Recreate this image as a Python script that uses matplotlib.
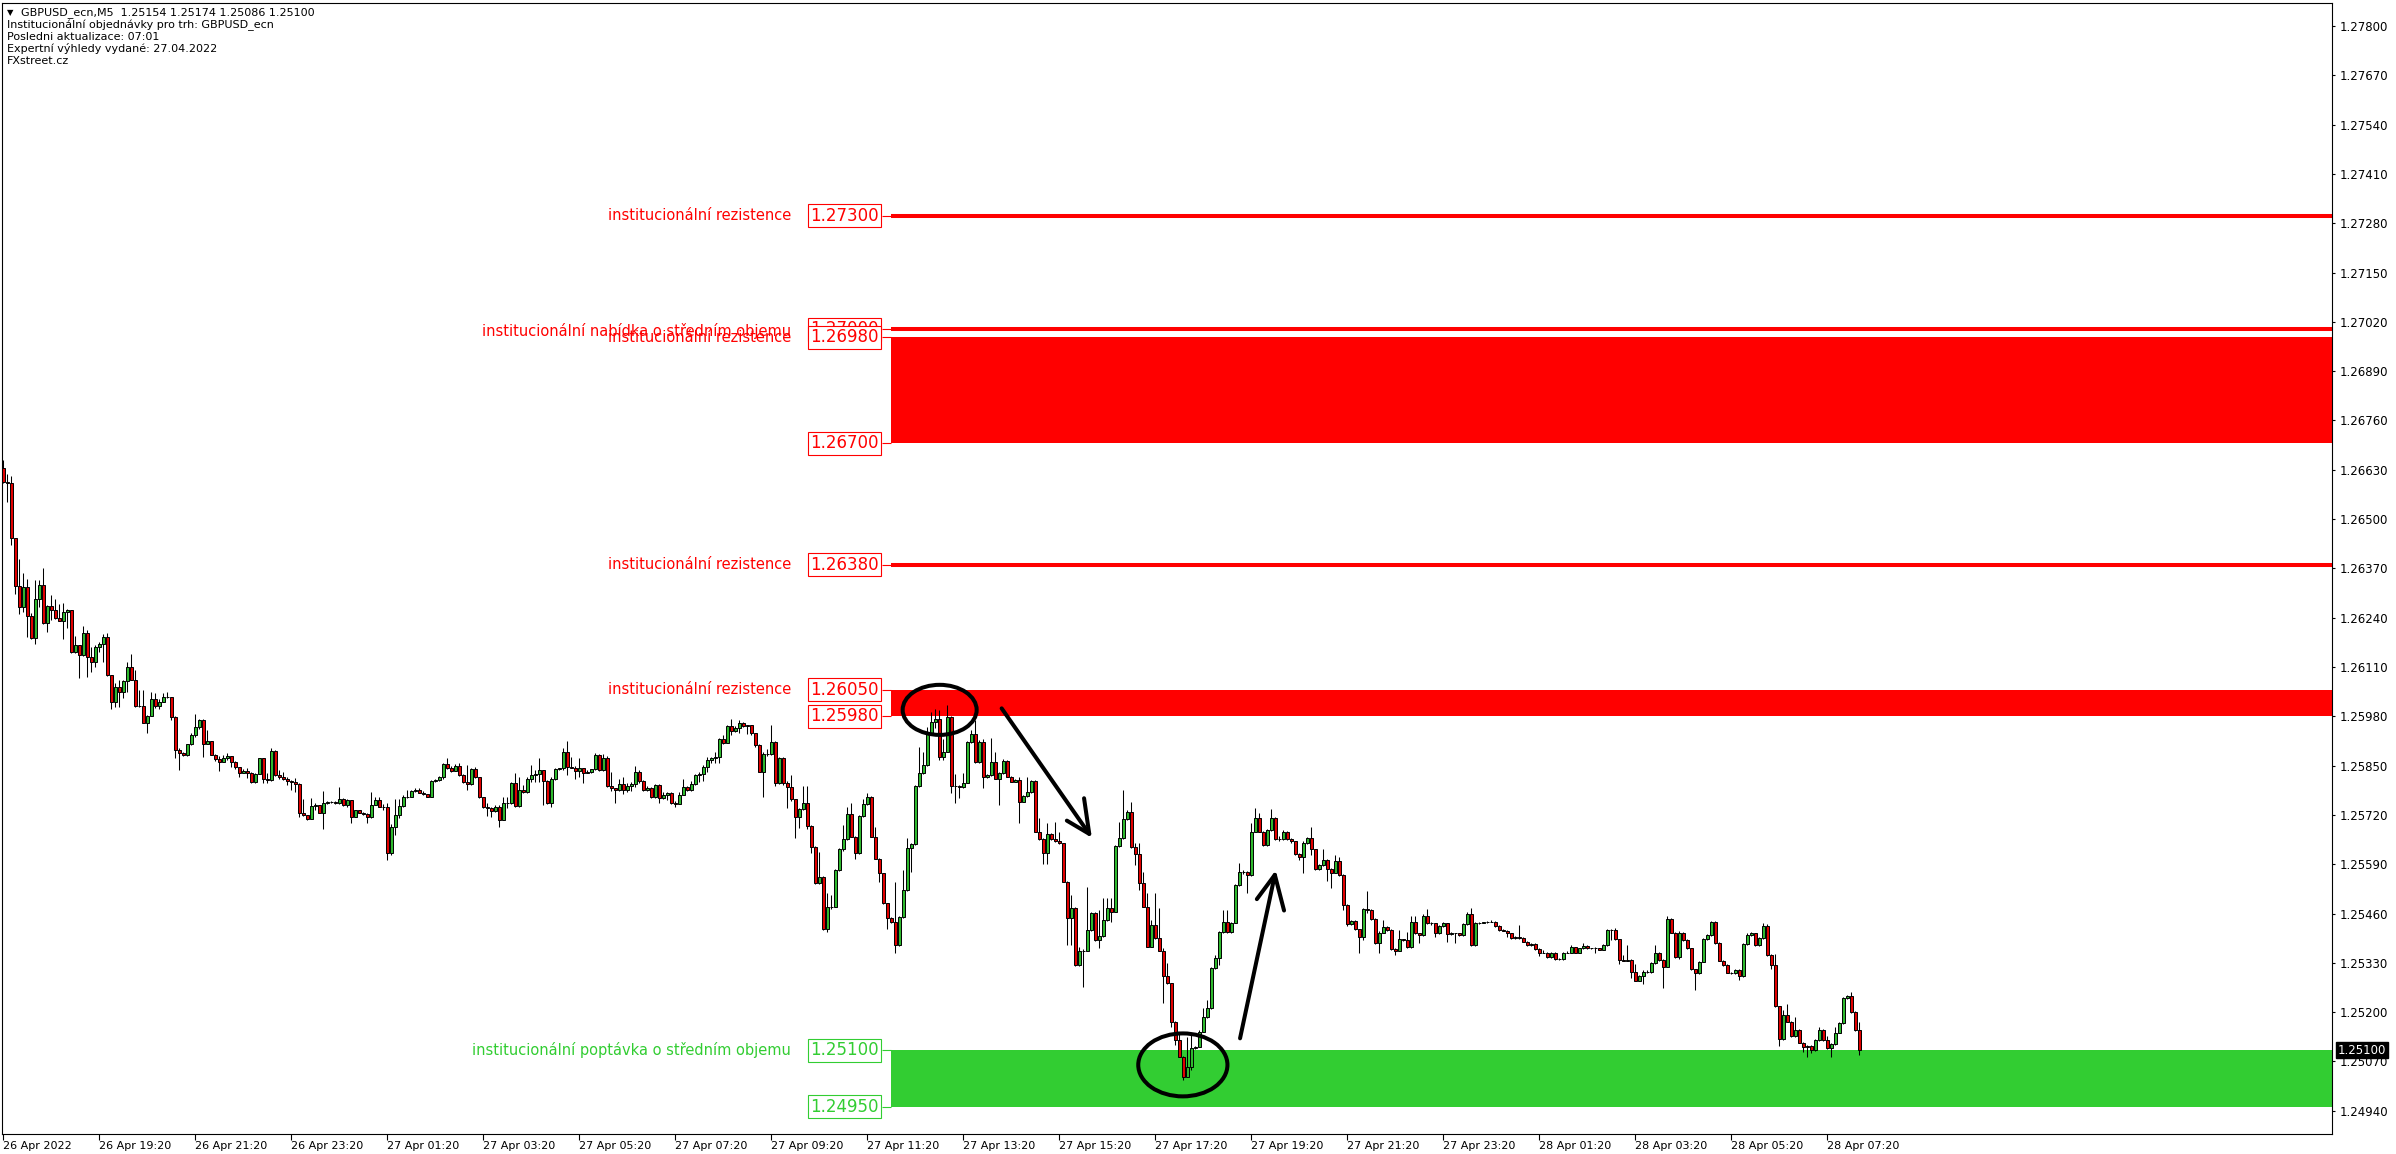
import numpy as np
import matplotlib.pyplot as plt
import matplotlib.transforms as mtransforms
from matplotlib.patches import Rectangle, Ellipse

# GBPUSD M5 candles, prices stored as pips above 1.25000
BASE = 1.25000
first_open_pips = 163.4
close_pips = [
    159.9, 159.6, 144.9, 132.4, 126.9, 132.2, 124.5, 118.6, 128.8, 132.5,
    122.7, 127.1, 126.0, 123.8, 123.2, 125.5, 126.0, 115.0, 116.7, 114.2,
    119.9, 113.7, 112.4, 116.4, 117.1, 118.8, 108.9, 101.9, 105.8, 104.5,
    107.4, 110.9, 107.7, 100.8, 100.7, 96.3, 98.1, 102.5, 100.7, 101.8,
    103.0, 103.1, 97.9, 89.1, 88.4, 87.7, 90.7, 93.0, 95.3, 97.0,
    90.7, 91.4, 87.9, 86.7, 86.0, 87.0, 87.5, 86.0, 84.6, 83.1,
    83.6, 83.1, 80.8, 82.9, 86.9, 81.6, 81.1, 88.9, 82.5, 81.9,
    81.6, 81.0, 80.7, 80.2, 72.4, 72.0, 71.0, 74.3, 74.6, 72.6,
    75.1, 75.4, 75.5, 75.1, 76.1, 74.6, 75.9, 71.5, 73.3, 72.6,
    72.2, 71.4, 74.6, 76.0, 74.2, 74.0, 62.0, 68.8, 72.0, 74.3,
    76.6, 76.8, 78.2, 78.6, 77.9, 77.5, 76.8, 81.0, 81.2, 81.9,
    85.4, 84.3, 83.7, 84.9, 82.5, 80.8, 80.2, 84.0, 82.0, 76.6,
    74.0, 73.7, 73.1, 74.2, 70.7, 75.1, 75.2, 80.5, 74.3, 78.7,
    78.1, 81.6, 82.5, 82.8, 83.8, 81.0, 75.2, 81.6, 84.1, 84.3,
    88.7, 84.7, 84.5, 83.6, 84.3, 83.1, 83.4, 84.0, 87.8, 83.8,
    87.1, 79.6, 79.0, 78.6, 80.2, 78.7, 79.6, 80.2, 83.2, 81.0,
    78.7, 79.0, 76.6, 79.9, 76.4, 77.3, 77.9, 75.2, 75.0, 77.3,
    79.4, 78.6, 80.2, 82.5, 82.8, 84.7, 86.6, 86.9, 87.2, 91.9,
    90.9, 95.4, 94.2, 95.0, 96.3, 95.4, 95.6, 93.5, 90.4, 83.4,
    88.1, 88.1, 91.3, 80.3, 86.9, 80.5, 79.4, 76.1, 71.4, 73.5,
    75.2, 69.1, 63.6, 54.1, 55.7, 41.8, 47.6, 47.8, 57.5, 62.9,
    65.6, 72.2, 66.3, 61.9, 71.7, 74.9, 76.6, 66.3, 60.5, 56.6,
    48.7, 44.7, 43.9, 37.7, 45.0, 52.2, 63.2, 64.3, 79.6, 83.0,
    85.2, 93.5, 96.5, 97.2, 87.4, 88.7, 97.7, 79.6, 79.5, 79.3,
    80.5, 91.3, 93.3, 86.0, 91.3, 81.9, 82.5, 86.0, 81.6, 83.0,
    86.3, 82.1, 80.8, 81.2, 75.5, 77.0, 78.1, 81.0, 67.6, 65.6,
    61.9, 67.0, 65.6, 65.0, 64.5, 54.4, 44.7, 47.4, 32.4, 36.0,
    36.2, 41.7, 46.1, 39.0, 40.1, 44.3, 47.4, 46.5, 63.8, 65.8,
    70.8, 72.9, 63.6, 61.7, 54.0, 47.8, 37.3, 43.0, 39.5, 36.2,
    29.6, 27.6, 17.5, 12.7, 8.3, 3.0, 5.6, 10.5, 10.9, 14.9,
    18.6, 21.0, 31.6, 34.2, 41.2, 43.9, 41.2, 43.6, 53.5, 57.0,
    57.0, 56.2, 67.6, 71.1, 67.6, 64.1, 67.9, 71.1, 65.6, 65.6,
    67.6, 65.6, 65.0, 61.7, 60.8, 64.5, 65.8, 62.9, 57.7, 58.8,
    60.1, 57.7, 56.8, 59.9, 56.2, 48.3, 43.3, 44.1, 41.8, 39.7,
    47.1, 47.0, 44.5, 38.3, 41.0, 42.4, 41.7, 36.6, 36.2, 39.2,
    38.9, 37.1, 43.9, 40.8, 40.4, 45.4, 43.4, 43.4, 40.8, 42.7,
    43.4, 40.6, 40.8, 40.8, 40.4, 43.2, 46.0, 37.7, 43.6, 43.6,
    43.7, 43.9, 43.9, 42.7, 41.7, 41.5, 40.8, 39.5, 39.9, 39.5,
    38.6, 37.7, 38.0, 36.6, 35.7, 35.7, 34.6, 35.7, 33.9, 33.9,
    35.7, 35.7, 37.1, 35.7, 36.8, 37.5, 36.8, 36.8, 36.8, 36.5,
    37.7, 41.7, 41.7, 39.2, 33.7, 33.6, 33.7, 30.7, 28.3, 29.5,
    30.7, 30.6, 32.9, 35.7, 33.8, 32.0, 44.5, 41.0, 34.6, 41.0,
    39.0, 36.8, 31.3, 30.2, 33.3, 39.2, 40.4, 43.9, 38.3, 33.6,
    32.5, 30.4, 30.3, 31.1, 29.5, 38.0, 40.4, 40.8, 37.7, 39.5,
    42.7, 35.1, 32.5, 21.5, 12.8, 19.3, 17.5, 13.7, 15.3, 12.0,
    10.7, 11.1, 10.0, 12.7, 15.3, 12.7, 10.5, 11.6, 14.6, 17.1,
    23.7, 24.3, 20.1, 15.3, 10.0,
]
high_pips = [
    165.6, 161.8, 161.4, 145.0, 139.6, 135.7, 134.1, 125.3, 133.9, 133.9,
    137.2, 127.3, 130.0, 128.8, 127.6, 128.0, 126.2, 126.1, 119.2, 116.8,
    121.8, 120.7, 116.4, 116.8, 117.7, 119.7, 119.9, 109.0, 106.9, 107.7,
    107.7, 112.3, 114.4, 110.2, 105.0, 105.0, 98.3, 104.5, 104.1, 102.5,
    104.1, 104.5, 103.1, 98.2, 89.6, 88.6, 90.8, 93.5, 98.6, 97.4,
    97.2, 94.4, 91.5, 88.0, 87.6, 87.7, 88.2, 87.6, 86.2, 84.7,
    84.2, 84.4, 83.2, 83.0, 87.0, 86.9, 83.0, 89.6, 89.0, 83.8,
    83.4, 81.9, 81.1, 81.8, 80.3, 76.3, 72.1, 76.4, 75.1, 74.7,
    78.4, 75.6, 75.6, 75.6, 79.4, 76.4, 76.1, 76.0, 73.4, 73.4,
    72.8, 72.4, 78.1, 76.8, 76.8, 74.8, 75.2, 69.5, 76.1, 76.3,
    77.3, 78.6, 78.6, 79.0, 79.0, 78.3, 77.6, 81.2, 81.5, 82.2,
    85.8, 86.9, 84.9, 85.5, 85.8, 82.7, 85.2, 84.3, 84.7, 82.1,
    76.7, 75.1, 74.0, 74.6, 74.6, 76.8, 76.6, 80.8, 83.0, 81.9,
    79.9, 82.0, 85.2, 83.8, 86.9, 83.9, 81.3, 81.9, 84.5, 84.5,
    89.6, 91.6, 87.2, 84.8, 86.9, 84.4, 83.9, 84.2, 88.4, 88.0,
    88.0, 87.6, 83.4, 79.2, 81.6, 82.1, 80.3, 80.8, 84.9, 83.8,
    81.2, 79.6, 79.3, 80.1, 80.1, 78.1, 78.1, 78.1, 75.6, 78.1,
    81.6, 79.6, 81.0, 82.9, 83.4, 85.2, 87.3, 87.3, 88.7, 92.2,
    93.1, 95.7, 97.2, 95.4, 97.0, 96.5, 95.7, 95.7, 93.7, 90.6,
    88.6, 89.5, 95.7, 91.6, 87.3, 87.2, 80.9, 82.5, 76.3, 73.8,
    79.6, 79.6, 69.3, 63.8, 62.1, 56.0, 51.3, 50.9, 57.7, 63.2,
    69.3, 74.2, 75.2, 66.5, 72.0, 76.1, 77.9, 77.0, 68.9, 60.7,
    56.8, 48.9, 45.2, 54.4, 45.3, 57.5, 65.8, 64.6, 79.8, 90.0,
    88.7, 95.3, 99.2, 100.0, 99.7, 92.0, 101.0, 98.0, 82.7, 80.0,
    83.0, 91.6, 94.4, 97.0, 91.8, 92.0, 82.9, 92.2, 88.7, 83.4,
    86.7, 86.5, 82.3, 81.4, 82.1, 77.2, 82.1, 81.3, 81.2, 71.1,
    65.8, 69.8, 67.2, 70.2, 67.6, 64.7, 54.6, 51.0, 47.6, 37.3,
    36.6, 53.1, 46.4, 46.3, 47.0, 50.0, 50.0, 50.0, 64.0, 70.2,
    78.6, 73.2, 75.5, 64.5, 64.5, 57.0, 51.3, 44.3, 51.3, 47.4,
    36.8, 32.9, 27.8, 17.7, 14.5, 8.5, 13.5, 14.0, 11.2, 15.2,
    21.0, 23.2, 31.9, 35.1, 41.5, 46.9, 46.9, 43.9, 53.8, 59.2,
    57.6, 57.3, 70.0, 73.7, 72.4, 67.8, 68.4, 73.5, 71.5, 66.5,
    67.9, 67.8, 65.8, 65.2, 61.9, 65.0, 66.1, 68.9, 63.1, 59.0,
    62.9, 60.3, 57.9, 61.4, 60.8, 56.4, 48.5, 44.4, 44.3, 42.0,
    47.4, 51.9, 47.2, 44.7, 41.3, 44.3, 42.6, 41.9, 36.8, 41.7,
    39.4, 41.2, 45.4, 45.4, 41.0, 46.0, 47.1, 43.7, 43.6, 43.0,
    43.7, 43.6, 41.1, 41.0, 41.0, 43.5, 46.3, 47.4, 43.9, 43.9,
    43.9, 44.1, 44.3, 44.0, 42.9, 41.9, 41.7, 41.0, 40.1, 43.0,
    39.7, 38.8, 38.2, 38.2, 36.8, 36.3, 35.9, 35.9, 35.9, 34.3,
    35.9, 36.0, 37.6, 37.3, 37.0, 38.3, 37.7, 37.0, 37.1, 37.0,
    38.0, 41.9, 42.0, 42.1, 39.4, 35.0, 37.7, 33.9, 32.7, 29.8,
    31.0, 31.0, 33.1, 37.7, 35.9, 34.0, 45.4, 44.7, 41.2, 41.3,
    41.2, 39.2, 37.0, 31.5, 33.6, 39.5, 40.7, 44.1, 44.1, 38.5,
    33.8, 32.7, 30.6, 31.4, 31.3, 38.3, 41.0, 41.1, 41.0, 39.8,
    43.4, 43.2, 35.3, 35.3, 21.7, 20.6, 22.2, 17.7, 18.6, 15.5,
    12.2, 11.4, 11.3, 13.0, 16.0, 15.5, 13.7, 11.9, 16.2, 17.4,
    23.9, 24.5, 25.2, 20.3, 17.4,
]
low_pips = [
    159.6, 154.6, 143.2, 130.2, 125.1, 125.4, 118.8, 118.4, 117.0, 126.9,
    122.3, 120.1, 123.4, 123.6, 123.0, 118.4, 121.3, 114.8, 114.8, 108.2,
    114.0, 108.4, 109.6, 111.1, 115.0, 112.2, 108.7, 99.8, 100.5, 100.5,
    102.7, 104.5, 107.5, 100.5, 100.5, 96.2, 93.5, 98.0, 100.1, 99.8,
    101.7, 102.9, 96.9, 87.0, 83.8, 87.5, 87.5, 90.5, 92.6, 94.6,
    87.4, 90.6, 87.7, 86.3, 83.7, 86.0, 86.6, 84.7, 84.2, 81.9,
    83.0, 81.7, 80.5, 80.5, 82.7, 80.3, 80.4, 81.0, 82.3, 81.4,
    81.2, 79.9, 78.7, 78.1, 71.4, 71.7, 70.7, 70.8, 73.3, 72.4,
    68.2, 75.0, 75.2, 74.9, 74.9, 74.4, 74.1, 69.8, 71.4, 72.4,
    72.0, 69.8, 71.2, 74.5, 74.0, 73.4, 60.0, 61.5, 66.7, 71.2,
    74.0, 76.4, 76.6, 78.0, 77.7, 77.2, 76.6, 76.6, 80.6, 81.0,
    81.6, 84.0, 83.4, 83.6, 82.2, 80.5, 78.6, 80.0, 81.8, 76.4,
    73.7, 71.6, 71.4, 72.8, 68.9, 70.6, 73.8, 74.9, 74.1, 74.2,
    77.7, 77.8, 80.8, 80.8, 80.7, 74.6, 75.0, 74.0, 81.2, 83.9,
    83.9, 82.5, 84.3, 81.4, 82.1, 80.3, 83.0, 83.0, 83.8, 83.6,
    83.6, 79.4, 78.4, 75.2, 78.3, 77.5, 78.1, 78.4, 79.4, 80.3,
    78.4, 78.4, 76.4, 76.4, 75.2, 76.1, 76.0, 74.9, 74.0, 74.9,
    77.3, 78.3, 78.4, 80.0, 80.8, 81.0, 83.4, 85.6, 85.8, 85.6,
    90.7, 90.9, 93.2, 93.8, 93.5, 95.2, 93.4, 93.2, 89.8, 83.2,
    76.6, 87.6, 87.8, 79.6, 80.2, 80.0, 73.7, 75.8, 65.8, 68.5,
    73.3, 68.2, 61.9, 53.9, 53.9, 41.6, 41.2, 47.3, 47.6, 57.3,
    62.6, 65.4, 66.1, 60.3, 61.7, 71.5, 74.7, 66.1, 60.3, 54.4,
    48.5, 41.8, 43.4, 35.5, 37.5, 44.8, 52.0, 57.0, 64.1, 79.4,
    82.8, 85.0, 95.0, 95.0, 86.5, 86.5, 88.5, 77.7, 75.2, 76.5,
    79.1, 80.3, 91.0, 85.8, 85.8, 79.0, 81.7, 82.3, 81.4, 74.6,
    82.8, 81.9, 80.6, 80.6, 69.8, 75.3, 76.8, 77.9, 67.4, 65.4,
    59.1, 59.1, 65.4, 64.8, 64.3, 54.2, 37.7, 37.7, 32.2, 32.2,
    26.7, 36.0, 41.5, 38.8, 36.8, 39.9, 44.1, 43.8, 46.3, 63.6,
    65.6, 70.6, 63.4, 58.8, 52.2, 47.6, 37.1, 37.1, 39.3, 36.0,
    22.3, 27.4, 16.2, 11.4, 8.1, 2.1, 2.8, 4.8, 10.3, 10.7,
    14.7, 18.4, 20.8, 31.4, 32.4, 41.0, 41.0, 41.0, 43.4, 53.3,
    56.5, 51.3, 56.0, 67.4, 67.4, 63.8, 63.9, 67.7, 65.4, 65.0,
    65.4, 65.4, 64.6, 61.5, 60.1, 56.8, 64.3, 61.4, 57.5, 57.5,
    58.6, 54.7, 52.7, 56.6, 56.0, 46.9, 42.7, 43.1, 41.6, 35.7,
    39.0, 46.2, 44.3, 38.1, 35.7, 40.8, 41.5, 36.4, 35.1, 36.0,
    38.7, 36.9, 36.9, 40.6, 38.3, 40.2, 43.2, 43.1, 39.9, 40.6,
    42.5, 38.6, 40.4, 38.2, 40.2, 40.2, 43.0, 37.5, 37.5, 43.3,
    43.4, 43.6, 43.7, 42.5, 41.5, 41.3, 39.9, 39.3, 39.3, 39.3,
    38.4, 37.5, 37.5, 36.4, 34.9, 35.5, 34.4, 34.4, 33.7, 33.7,
    33.7, 35.5, 35.5, 35.5, 35.5, 36.6, 36.6, 36.6, 35.5, 36.3,
    36.3, 37.5, 39.0, 39.0, 32.7, 33.4, 33.4, 28.9, 28.1, 28.1,
    27.4, 30.4, 30.4, 32.7, 33.6, 26.3, 31.8, 40.8, 34.4, 33.9,
    38.8, 36.6, 31.1, 25.9, 30.0, 33.1, 39.0, 40.2, 38.1, 33.4,
    32.3, 30.2, 30.1, 30.1, 28.5, 29.3, 37.8, 40.2, 37.5, 37.5,
    39.3, 34.9, 31.3, 21.3, 11.1, 12.6, 17.3, 13.5, 13.5, 11.8,
    9.6, 8.3, 9.3, 9.8, 12.5, 12.5, 10.3, 8.1, 11.4, 14.4,
    16.9, 23.5, 19.9, 15.1, 8.6,
]

time_labels = [
    "26 Apr 2022", "26 Apr 19:20", "26 Apr 21:20", "26 Apr 23:20",
    "27 Apr 01:20", "27 Apr 03:20", "27 Apr 05:20", "27 Apr 07:20",
    "27 Apr 09:20", "27 Apr 11:20", "27 Apr 13:20", "27 Apr 15:20",
    "27 Apr 17:20", "27 Apr 19:20", "27 Apr 21:20", "27 Apr 23:20",
    "28 Apr 01:20", "28 Apr 03:20", "28 Apr 05:20", "28 Apr 07:20",
]
bars_per_label = 24

price_ticks = [
    1.27800, 1.27670, 1.27540, 1.27410, 1.27280, 1.27150, 1.27020, 1.26890,
    1.26760, 1.26630, 1.26500, 1.26370, 1.26240, 1.26110, 1.25980, 1.25850,
    1.25720, 1.25590, 1.25460, 1.25330, 1.25200, 1.25070, 1.24940,
]

# levels drawn by the indicator
level_lines = [1.27300, 1.27000, 1.26380]
zones = [(1.26980, 1.26700, "red"), (1.26050, 1.25980, "red"), (1.25100, 1.24950, "#32CD32")]
zone_texts = [
    ("institucionální rezistence", 1.27300, "red"),
    ("institucionální rezistence", 1.26978, "red"),
    ("institucionální nabídka o středním objemu", 1.26995, "red"),
    ("institucionální rezistence", 1.26380, "red"),
    ("institucionální rezistence", 1.26050, "red"),
    ("institucionální poptávka o středním objemu", 1.25100, "#32CD32"),
]
value_boxes = [
    (1.27300, "red"), (1.27000, "red"), (1.26980, "red"), (1.26700, "red"),
    (1.26380, "red"), (1.26050, "red"), (1.25980, "red"),
    (1.25100, "#32CD32"), (1.24950, "#32CD32"),
]
header_lines = [
    "GBPUSD_ecn,M5  1.25154 1.25174 1.25086 1.25100",
    "Institucionální objednávky pro trh: GBPUSD_ecn",
    "Posledni aktualizace: 07:01",
    "Expertní výhledy vydané: 27.04.2022",
    "FXstreet.cz",
]
last_price = 1.25100

W, H = 2396, 1154
fig = plt.figure(figsize=(W / 100, H / 100), dpi=100)
ax = fig.add_axes([2 / W, 20 / H, 2330 / W, 1131 / H])
ax.set_xlim(-0.325, 582.2)
ax.set_ylim(1.248788, 1.278606)

c = BASE + np.array(close_pips) / 1e4
o = np.concatenate([[BASE + first_open_pips / 1e4], c[:-1]])
hi = np.maximum(BASE + np.array(high_pips) / 1e4, np.maximum(o, c))
lo = np.minimum(BASE + np.array(low_pips) / 1e4, np.minimum(o, c))
idx = np.arange(len(c))
up = c >= o

x_end = 582.2
zone_x0 = 221.9
box_x = 210.3
box_right = 219.7
text_right = 196.9

# zones and levels
for top, bot, col in zones:
    ax.add_patch(Rectangle((zone_x0, bot), x_end - zone_x0, top - bot, color=col, lw=0, zorder=1))
for p in level_lines:
    ax.hlines(p, zone_x0, x_end, color="red", lw=2.9, zorder=1)
for p, col in value_boxes:
    ax.hlines(p, box_right, zone_x0, color=col, lw=0.8, zorder=1)

for txt, p, col in zone_texts:
    ax.text(text_right, p, txt, ha="right", va="center", fontsize=10.5, color=col, zorder=2)
for p, col in value_boxes:
    ax.text(box_x, p, f"{p:.5f}", ha="center", va="center", fontsize=12, color=col, zorder=2,
            bbox=dict(boxstyle="square,pad=0.15", fc="white", ec=col, lw=0.8))

# candles
ax.vlines(idx, lo, hi, color="black", lw=0.75, zorder=3)
ax.bar(idx, np.maximum(np.abs(c - o), 1e-7), bottom=np.minimum(o, c), width=0.7,
       color=np.where(up, "#2EB82E", "#E00000"), edgecolor="black", linewidth=0.7, zorder=4)

# hand drawn marks
pip = 1e-4
ax.add_patch(Ellipse((234.1, BASE + 99.7 * pip), 18.5, 13.2 * pip, fill=False, ec="black", lw=2.9, zorder=6))
ax.add_patch(Ellipse((294.9, BASE + 6.1 * pip), 22.3, 16.6 * pip, fill=False, ec="black", lw=2.9, zorder=6))
arrows = [
    ((249.6, 100.1), (271.5, 67.0), (265.9, 70.5), (270.2, 76.4)),
    ((309.2, 13.1), (317.9, 56.2), (313.4, 49.8), (320.2, 46.8)),
]
for (x0, y0), (x1, y1), (xa, ya), (xb, yb) in arrows:
    ax.plot([x0, x1], [BASE + y0 * pip, BASE + y1 * pip], color="black", lw=2.9,
            solid_capstyle="round", zorder=6)
    ax.plot([xa, x1, xb], [BASE + ya * pip, BASE + y1 * pip, BASE + yb * pip], color="black",
            lw=2.9, solid_capstyle="round", solid_joinstyle="round", zorder=6)

# axes styling
for s in ax.spines.values():
    s.set_linewidth(0.8)
    s.set_color("black")
ax.yaxis.tick_right()
ax.set_yticks(price_ticks)
ax.set_yticklabels([f"{p:.5f}" for p in price_ticks])
ax.tick_params(axis="y", length=2.5, width=0.8, pad=3, labelsize=8.5)
ax.set_xticks(np.arange(len(time_labels)) * bars_per_label)
ax.set_xticklabels(time_labels)
ax.tick_params(axis="x", length=4, width=0.8, pad=1, labelsize=8)
for lbl in ax.get_xticklabels():
    lbl.set_ha("left")

# current price tag
ax.text(1.0025, last_price, f"{last_price:.5f}", transform=mtransforms.blended_transform_factory(ax.transAxes, ax.transData),
        ha="left", va="center", fontsize=8.5, color="white", clip_on=False, zorder=10,
        bbox=dict(boxstyle="square,pad=0.15", fc="black", ec="black"))

# header text
fig.text(7 / W, 1 - 13 / H, "\u25bc", fontsize=6, va="center", ha="left")
fig.text(21 / W, 1 - 13 / H, header_lines[0], fontsize=8, va="center", ha="left")
for k, line in enumerate(header_lines[1:]):
    fig.text(7 / W, 1 - (25 + 12 * k) / H, line, fontsize=8, va="center", ha="left")

fig.savefig("out.png", dpi=100)
